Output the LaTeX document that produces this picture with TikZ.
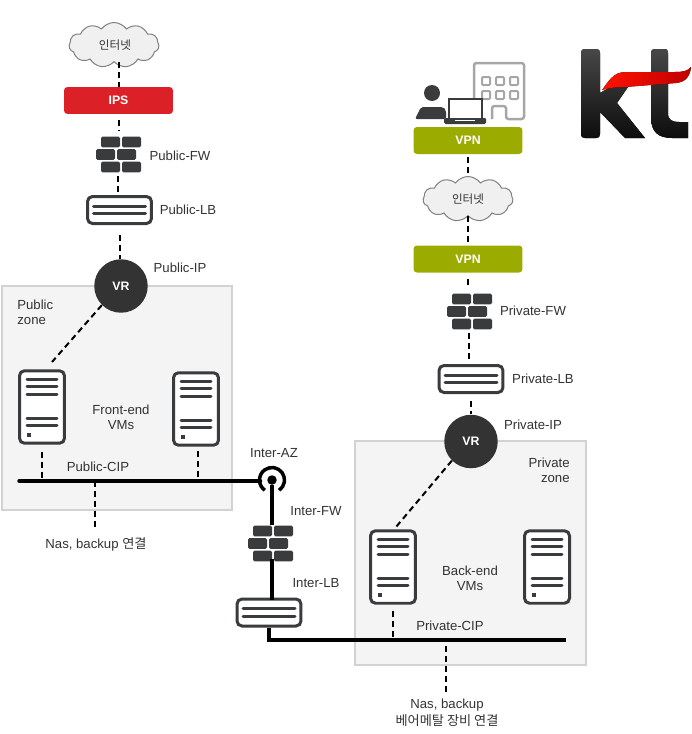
\documentclass[tikz,border=0pt]{standalone}
\usepackage{fontspec}
\setmainfont{Liberation Sans}
\newfontfamily\krfont{Noto Sans CJK KR}
\usetikzlibrary{shapes.symbols}
\definecolor{inkdark}{HTML}{3A3B3D}
\definecolor{txtgray}{HTML}{333333}
\definecolor{zonefill}{HTML}{F4F4F4}
\definecolor{zoneline}{HTML}{D2D2D2}
\definecolor{ipsred}{HTML}{DB2027}
\definecolor{vpngreen}{HTML}{9CAB00}
\definecolor{bldgray}{HTML}{A6A6A6}
\newcommand{\krsmall}{\krfont\fontsize{7.5pt}{8.6pt}\selectfont}
\tikzset{
  lbl/.style={font=\fontsize{7.5pt}{8.6pt}\selectfont, text=txtgray, inner sep=0pt, align=center},
  krlbl/.style={lbl, font=\fontsize{6.6pt}{8.2pt}\selectfont\krfont},
  zonebox/.style={draw=zoneline, line width=.04cm, fill=zonefill, inner sep=0pt},
  cloudbox/.style={cloud, cloud puffs=11, cloud puff arc=110, aspect=2, draw=gray, fill=black!6, line width=.02cm,
    inner sep=0pt, minimum width=1.8cm, minimum height=.9cm},
  tagbox/.style={rounded corners=.07cm, minimum width=2.18cm, minimum height=.54cm, inner sep=0pt, text=white,
    font=\fontsize{7pt}{8pt}\selectfont\bfseries},
  vrbox/.style={circle, fill=black!80, minimum size=1.07cm, inner sep=0pt, text=white,
    font=\fontsize{7pt}{8pt}\selectfont\bfseries},
  fwbox/.style={minimum width=.9cm, minimum height=.72cm, inner sep=0pt},
  lbbox/.style={draw=inkdark, line width=.06cm, fill=white, rounded corners=.1cm, minimum width=1.28cm, minimum height=.54cm, inner sep=0pt},
  srvbox/.style={draw=inkdark, line width=.06cm, fill=white, rounded corners=.1cm, minimum width=.9cm, minimum height=1.45cm, inner sep=0pt},
  dashline/.style={line width=.04cm, dash pattern=on .12cm off .08cm},
  busline/.style={line width=.07cm, line cap=round},
  bricks/.pic={
    \foreach \bx/\by in {-17/-12, 4/-12, -22/0.5, -1/0.5, -17/13, 4/13}
      \fill[inkdark, rounded corners=.03cm] (\bx,\by-5.3) rectangle ++(19,10.6);
  },
  lblines/.pic={
    \foreach \ly in {-3.6,3.6}
      \draw[inkdark, line width=.06cm, line cap=round] (-26,\ly) -- (26,\ly);
  },
  srvlines/.pic={
    \foreach \ly in {-28,-20.5,-13,11,18.5}
      \draw[inkdark, line width=.06cm, line cap=round] (-15,\ly) -- (15,\ly);
    \fill[inkdark] (-15.5,25.5) rectangle ++(4,4);
  },
}
\begin{document}
\begin{tikzpicture}[x=.02cm, y=-.02cm]
  \useasboundingbox (0,0) rectangle (691,734);

  % zones
  \node[zonebox, minimum width=4.6cm, minimum height=4.48cm] (zonepub) at (117,398) {};
  \node[zonebox, minimum width=4.62cm, minimum height=4.48cm] (zonepriv) at (470.5,553) {};

  % public side
  \node[cloudbox] (cloudpub) at (114,45) {};
  \node[krlbl] (cloudpubtxt) at (115,45) {인터넷};
  \node[tagbox, fill=ipsred] (ips) at (118.5,100.5) {IPS};
  \node[fwbox] (fwpub) at (118,154) {};
  \pic at (fwpub) {bricks};
  \node[lbl] (fwpubtxt) at (180,156) {Public-FW};
  \node[lbbox] (lbpub) at (119.5,210) {};
  \pic at (lbpub) {lblines};
  \node[lbl] (lbpubtxt) at (188,210) {Public-LB};
  \node[vrbox] (vrpub) at (121,286) {VR};
  \node[lbl] (vrpubtxt) at (180,268) {Public-IP};
  \node[lbl, align=left, anchor=west] (zonepubtxt) at (17,312.5) {Public\\zone};

  \node[srvbox] (srvpuba) at (42,407) {};
  \pic at (srvpuba) {srvlines};
  \node[srvbox] (srvpubb) at (196,409) {};
  \pic at (srvpubb) {srvlines};
  \node[lbl] (fronttxt) at (121,417.5) {Front-end\\VMs};
  \node[lbl] (cippubtxt) at (98,467) {Public-CIP};
  \coordinate (cippubl) at (19,481);
  \coordinate (vrpubend) at (52,362);
  \coordinate (nasdrop) at (95,530);
  \node[lbl] (naspubtxt) at (96,544) {Nas, backup {\krsmall 연결}};

  % inter zone
  \node[circle, fill=black, minimum size=.19cm, inner sep=0pt] (az) at (272,480) {};
  \node[lbl] (aztxt) at (274,453) {Inter-AZ};
  \node[lbl] (fwintertxt) at (316,511) {Inter-FW};
  \node[fwbox] (fwinter) at (270,543) {};
  \pic at (fwinter) {bricks};
  \node[lbl] (lbintertxt) at (316,583) {Inter-LB};
  \node[lbbox] (lbinter) at (269,612.5) {};
  \pic at (lbinter) {lblines};
  \coordinate (cipprivr) at (566,640);
  \draw[line width=.07cm] ([shift={(-55:.25cm)}]az.center) arc[start angle=-55, end angle=235, radius=.25cm];

  % private side
  \node[tagbox, fill=vpngreen] (vpna) at (468,140.5) {VPN};
  \node[cloudbox] (cloudpriv) at (468,199) {};
  \node[krlbl] (cloudprivtxt) at (468,199) {인터넷};
  \node[tagbox, fill=vpngreen] (vpnb) at (468,259) {VPN};
  \node[fwbox] (fwpriv) at (469,311) {};
  \pic at (fwpriv) {bricks};
  \node[lbl] (fwprivtxt) at (533,311) {Private-FW};
  \node[lbbox] (lbpriv) at (471,379) {};
  \pic at (lbpriv) {lblines};
  \node[lbl] (lbprivtxt) at (543,379) {Private-LB};
  \node[vrbox] (vrpriv) at (471,441.5) {VR};
  \node[lbl] (vrprivtxt) at (533,425) {Private-IP};
  \node[lbl, align=right, anchor=east] (zoneprivtxt) at (570,470) {Private\\zone};

  \node[srvbox] (srvpriva) at (393,567) {};
  \pic at (srvpriva) {srvlines};
  \node[srvbox] (srvprivb) at (547,567) {};
  \pic at (srvprivb) {srvlines};
  \node[lbl] (backtxt) at (470,578) {Back-end\\VMs};
  \node[lbl] (cipprivtxt) at (450,626) {Private-CIP};
  \coordinate (vrprivend) at (396,527);
  \coordinate (nasprivdrop) at (446,693);
  \node[lbl] (nasprivtxt) at (447,713) {Nas, backup\\[1pt]{\krsmall 베어메탈 장비 연결}};

  % dashed links
  \draw[dashline] (cloudpub.south -| ips.north) -- (ips.north);
  \draw[dashline, shorten <=.12cm, shorten >=.1cm] (ips.south) -- (fwpub.north -| ips.south);
  \draw[dashline, shorten <=.08cm, shorten >=.06cm] (fwpub.south) -- (lbpub.north -| fwpub.south);
  \draw[dashline, shorten <=.2cm] (lbpub.south) -- (vrpub.north -| lbpub.south);
  \draw[dashline] (vrpub.-135) -- (vrpubend);
  \draw[dashline, shorten <=.14cm] (srvpuba.south) -- (cippubl -| srvpuba.south);
  \draw[dashline, shorten <=.08cm] ([xshift=.04cm]srvpubb.south) -- ([xshift=.04cm]cippubl -| srvpubb.south);
  \draw[dashline] (cippubl -| nasdrop) -- (nasdrop);

  \draw[dashline, shorten <=.06cm] (vpna.south) -- (cloudpriv.north -| vpna.south);
  \draw[dashline] (cloudpriv.south) -- (vpnb.north -| cloudpriv.south);
  \draw[dashline, shorten <=.12cm, shorten >=.08cm] (vpnb.south) -- (fwpriv.north -| vpnb.south);
  \draw[dashline, shorten <=.08cm, shorten >=.08cm] (fwpriv.south) -- (lbpriv.north -| fwpriv.south);
  \draw[dashline, shorten <=.14cm] (lbpriv.south) -- (vrpriv.north);
  \draw[dashline] (vrpriv.-135) -- (vrprivend);
  \draw[dashline, shorten <=.12cm] (srvpriva.south) -- (cipprivr -| srvpriva.south);
  \draw[dashline, shorten <=.12cm] (cipprivr -| nasprivdrop) -- (nasprivdrop);

  % solid links
  \draw[busline] (cippubl) -- ([xshift=-.23cm]az.center |- cippubl);
  \draw[busline, line cap=butt] (az) -- (az |- fwinter.north);
  \draw[busline, line cap=butt] ([yshift=.04cm]az |- fwinter.south) -- ([yshift=-.04cm]az |- lbinter.north);
  \draw[busline, line cap=butt] (lbinter.south) |- (cipprivr);

  % person, laptop and building
  \draw[bldgray, line width=.05cm, rounded corners=.05cm] (486,119) -- (474,119) -- (474,63) -- (524,63) -- (524,119) -- (506,119) -- (506,106) -- (492,106) -- (492,119);
  \foreach \wx in {482,496,510}
    \foreach \wy in {77,91}
      \draw[bldgray, line width=.04cm, rounded corners=.02cm] (\wx,\wy) rectangle ++(8,8);
  \fill[inkdark] (432,93) circle[radius=8];
  \fill[inkdark, rounded corners=.04cm] (415,119) -- (421,107) -- (443,107) -- (446,110) -- (446,119) -- cycle;
  \draw[inkdark, line width=.05cm, fill=white] (449,99) rectangle (482,119);
  \fill[inkdark, rounded corners=.03cm] (444,118) rectangle (486,124);
  \draw[white, line width=.02cm] (455,120.5) -- (475,120.5);

  % logo
  \fill[top color=black!72, bottom color=black!95] (581,53) .. controls (581,50) and (582,49) .. (585,49) -- (596,49) .. controls (599,49) and (600,50) .. (600,53) -- (600,93) -- (612,86) -- (628,87) -- (617,103) -- (645,138) -- (625,138) -- (600,112) -- (600,134) .. controls (600,137) and (599,138) .. (596,138) -- (585,138) .. controls (582,138) and (581,137) .. (581,134) -- cycle;
  \fill[top color=black!72, bottom color=black!95] (651,53) .. controls (651,50) and (652,49) .. (655,49) -- (665,49) .. controls (667,49) and (668,50) .. (668,53) -- (668,113) .. controls (668,120) and (672,122) .. (679,122) -- (688,122) -- (688,138) -- (672,138) .. controls (658,138) and (651,132) .. (651,117) -- cycle;
  \fill[left color=red!85!orange, right color=red!75!black] (602,90) .. controls (609,81) and (613,72) .. (626,72) -- (675,72) .. controls (683,72) and (688,71) .. (691,67) .. controls (690,76) and (686,82) .. (676,83) -- (625,87) .. controls (615,87) and (609,88) .. (602,90) -- cycle;
\end{tikzpicture}
\end{document}
